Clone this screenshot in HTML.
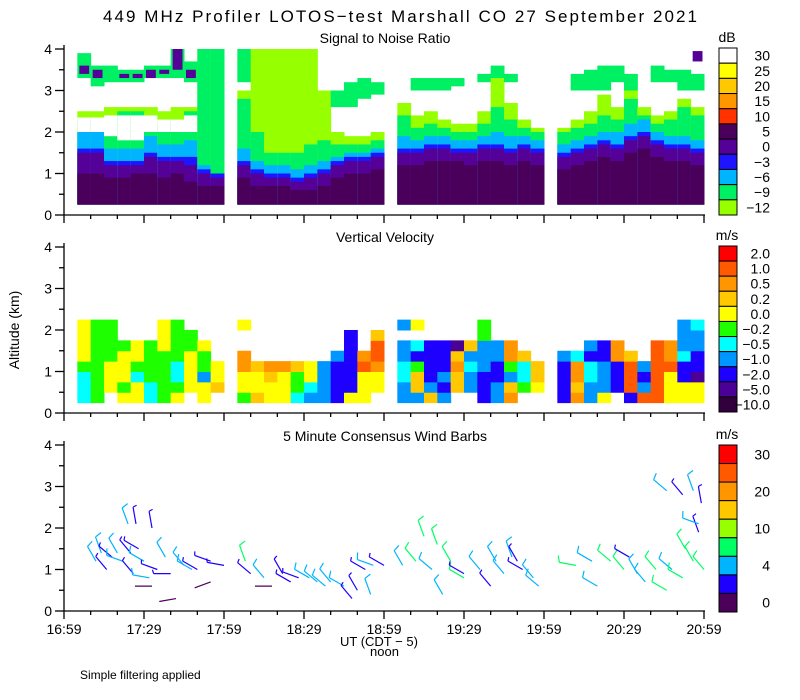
<!DOCTYPE html>
<html><head><meta charset="utf-8"><style>
html,body{margin:0;padding:0;background:#fff;}
svg{display:block;font-family:"Liberation Sans",sans-serif;}
</style></head><body>
<svg id="c" width="800" height="700" xmlns="http://www.w3.org/2000/svg">
<text x="400" y="22" text-anchor="middle" font-size="17" textLength="594">449 MHz Profiler LOTOS−test Marshall CO 27 September 2021</text>
<text x="385" y="43" text-anchor="middle" font-size="14">Signal to Noise Ratio</text>
<text x="385" y="242" text-anchor="middle" font-size="14">Vertical Velocity</text>
<text x="385" y="441" text-anchor="middle" font-size="14">5 Minute Consensus Wind Barbs</text>
<text transform="translate(19,330) rotate(-90)" text-anchor="middle" font-size="14">Altitude (km)</text>
<text x="340" y="646" font-size="13">UT  (CDT − 5)</text>
<text x="370" y="656" font-size="13">noon</text>
<text x="80" y="679" font-size="12">Simple filtering applied</text>
<g id="plots"></g>
</svg>
<script>
// ---------- data ----------
const xTickLabels = ["16:59","17:29","17:59","18:29","18:59","19:29","19:59","20:29","20:59"];
const yTickLabels = ["0","1","2","3","4"];
const segStarts = [5,65,125,185]; // minutes after 16:59
const colMinutes = 5;
// SNR layer tops (km), 44 columns
const snrDarkTop = [1.0,1.0,0.9,0.9,1.0,1.0,0.9,1.0,0.8,0.7,0.7, 0.9,0.7,0.7,0.7,0.6,0.6,0.7,0.9,1.0,1.0,1.1, 1.2,1.2,1.3,1.3,1.3,1.2,1.3,1.3,1.2,1.3,1.2, 1.1,1.2,1.3,1.4,1.3,1.5,1.6,1.4,1.3,1.3,1.2];
const snrPurpleTop = [1.5,1.5,1.2,1.2,1.2,1.4,1.3,1.3,1.2,1.0,0.9, 1.2,1.0,0.9,0.9,0.8,0.9,1.0,1.2,1.3,1.3,1.4, 1.5,1.5,1.6,1.6,1.5,1.5,1.6,1.6,1.5,1.6,1.5, 1.4,1.5,1.6,1.7,1.6,1.8,1.9,1.7,1.6,1.6,1.5];
const snrBlueTop = [1.6,1.6,1.3,1.3,1.3,1.5,1.4,1.4,1.4,1.1,1.0, 1.3,1.1,1.0,1.0,0.9,1.0,1.1,1.3,1.4,1.4,1.5, 1.6,1.6,1.7,1.7,1.6,1.6,1.7,1.7,1.6,1.7,1.6, 1.5,1.6,1.7,1.8,1.7,1.9,2.0,1.8,1.7,1.7,1.6];
const snrCyanTop = [2.0,2.0,1.6,1.6,1.6,1.9,1.7,1.7,1.8,1.2,1.0, 1.6,1.3,1.2,1.2,1.1,1.2,1.3,1.4,1.5,1.5,1.6, 1.9,1.8,1.9,1.9,1.8,1.8,1.9,2.0,1.9,1.9,1.8, 1.7,1.8,1.9,2.0,2.0,2.2,2.3,2.0,1.9,1.9,1.8];
const snrGreenTop = [2.3,2.3,1.9,2.5,2.5,2.4,2.2,2.3,2.5,4.0,4.0, 2.8,2.0,1.5,1.5,1.5,1.7,1.8,1.7,1.7,1.7,1.8, 2.4,2.1,2.2,2.1,2.0,2.0,2.2,2.6,2.3,2.1,2.0, 2.0,2.1,2.2,2.4,2.3,2.8,2.4,2.2,2.3,2.6,2.4];
const snrLimeTop = [2.5,2.5,2.6,2.6,2.6,2.6,2.5,2.6,2.6,4.0,4.0, 3.0,4.0,4.0,4.0,4.0,4.0,3.0,2.0,1.9,1.9,2.0, 2.7,2.4,2.5,2.3,2.2,2.2,2.5,3.3,2.7,2.3,2.1, 2.1,2.3,2.5,2.9,2.6,3.0,2.6,2.4,2.5,2.8,2.6];
const snrGapLo = [2.0,2.0,1.9,1.8,1.8,2.0,2.0,2.0,2.0,0,0, 0,0,0,0,0,0,0,0,0,0,0, 0,0,0,0,0,0,0,0,0,0,0, 0,0,0,0,0,0,0,0,0,0,0];
const snrGapHi = [2.35,2.35,2.4,2.4,2.4,2.4,2.3,2.3,2.4,0,0, 0,0,0,0,0,0,0,0,0,0,0, 0,0,0,0,0,0,0,0,0,0,0, 0,0,0,0,0,0,0,0,0,0,0];
const snrUpLo = [3.3,3.1,3.2,3.2,3.2,3.3,3.3,3.3,3.2,0,0, 3.2,0,0,0,0,0,0,2.6,2.6,2.8,2.9, 0,3.0,3.0,3.0,3.1,0,3.2,3.3,3.2,0,0, 0,3.0,3.0,3.0,3.2,3.0,0,3.2,3.2,3.0,3.0];
const snrUpHi = [3.9,3.6,3.6,3.5,3.5,3.6,3.6,4.0,3.7,0,0, 4.0,0,0,0,0,0,0,3.0,3.2,3.3,3.2, 0,3.3,3.3,3.3,3.3,0,3.4,3.6,3.4,0,0, 0,3.4,3.5,3.6,3.6,3.4,0,3.6,3.5,3.5,3.4];
const snrCoreLo = [3.4,3.3,0,3.3,3.3,3.3,3.4,3.5,3.3,0,0, 0,0,0,0,0,0,0,0,0,0,0, 0,0,0,0,0,0,0,0,0,0,0, 0,0,0,0,0,0,0,0,0,0,3.7];
const snrCoreHi = [3.6,3.5,0,3.4,3.4,3.5,3.5,4.0,3.5,0,0, 0,0,0,0,0,0,0,0,0,0,0, 0,0,0,0,0,0,0,0,0,0,0, 0,0,0,0,0,0,0,0,0,0,3.95];
// Vertical velocity level index per cell (rows 0.25 km from 0.25), -1 empty
const velRowBase = [0.25,0.5,0.75,1.0,1.25,1.5,1.75,2.0];
const vel0 = [4,5,-1,6,6,4,5,6,-1,6,-1, 5,7,6,6,4,3,3,2,6,6,-1, 3,3,7,3,-1,-1,2,3,8,-1,-1, 2,8,3,6,-1,2,9,9,6,6,6];
const vel1 = [4,5,6,5,6,4,5,5,6,6,7, 6,6,6,6,5,4,3,2,2,6,6, 3,7,3,2,7,3,2,3,7,5,6, 2,7,3,3,2,9,3,9,6,6,6];
const vel2 = [4,5,6,6,4,5,5,4,6,3,6, 6,6,7,6,5,6,3,2,2,6,6, 4,7,2,3,7,3,2,2,3,4,7, 2,8,4,3,2,9,2,9,6,2,1];
const vel3 = [5,5,6,6,5,5,5,4,6,5,6, 8,7,8,8,7,6,3,2,2,9,8, 4,5,2,2,8,4,3,2,5,4,7, 2,8,4,3,2,9,3,9,9,2,2];
const vel4 = [6,5,5,6,6,5,5,5,6,5,-1, 8,-1,-1,-1,-1,-1,-1,3,2,8,9, 3,2,2,2,7,3,3,3,8,7,-1, 3,4,2,2,8,7,-1,9,8,4,2];
const vel5 = [6,5,5,5,6,5,6,5,5,6,-1, -1,-1,-1,-1,-1,-1,-1,-1,2,-1,9, 3,4,2,2,1,7,3,3,8,-1,-1, -1,-1,3,2,8,-1,-1,9,8,3,3];
const vel6 = [6,5,5,-1,-1,-1,6,5,5,-1,-1, -1,-1,-1,-1,-1,-1,-1,-1,2,-1,7, -1,-1,-1,-1,-1,-1,5,-1,-1,-1,-1, -1,-1,-1,-1,-1,-1,-1,-1,-1,3,3];
const vel7 = [6,5,5,-1,-1,-1,6,5,-1,-1,-1, 6,-1,-1,-1,-1,-1,-1,-1,-1,-1,-1, 3,6,-1,-1,-1,-1,5,-1,-1,-1,-1, -1,-1,-1,-1,-1,-1,-1,-1,-1,3,4];
// Wind barbs
const windTime = [12,16,20,25,30,35,14,18,28,38,45,50,55,60,22,26,32,40,48,33,42,55,24,27,33, 70,75,82,88,92,95,100,105,110,115,120,78,85,98,108,113,116,68, 127,132,138,145,150,156,162,168,172,176,178,140,150,160,165,170,135,142, 192,198,205,210,215,222,228,232,236,240,200,212,218,226,233,238,226,232,236,239,238];
const windAlt = [1.2,1.0,1.4,1.4,1.2,1.0,1.4,1.3,1.5,1.3,1.1,1.0,1.2,1.1,1.2,0.9,0.8,0.9,1.0,0.6,0.3,0.7,2.1,2.1,2.0, 0.9,0.8,0.9,0.8,0.8,0.7,0.7,0.6,0.5,0.4,1.1,0.6,0.7,0.6,0.3,1.0,1.1,1.2, 1.1,1.2,1.0,1.2,0.8,1.0,1.2,1.3,1.0,0.8,0.6,1.6,0.9,0.6,0.9,1.2,1.8,0.4, 1.1,1.2,1.2,1.0,0.9,1.0,1.0,0.8,1.2,1.0,0.6,1.3,0.7,0.5,1.5,1.9,2.9,2.8,2.9,2.6,2.1];
const windSpeed = [5,3,5,3,5,3,5,3,3,5,5,3,3,3,5,3,5,3,5,1,1,1,5,3,3, 3,5,3,3,5,5,5,5,3,5,3,1,3,5,3,3,5,8, 5,8,5,8,8,5,5,5,3,5,5,8,3,3,5,3,8,5, 8,5,8,8,5,8,5,8,8,8,5,3,5,8,8,3,5,3,5,3,5];
const windDir = [330,320,330,320,300,290,340,310,300,330,320,300,290,280,290,320,280,270,300,270,260,250,340,350,350, 310,320,330,290,300,310,320,300,330,340,300,270,300,310,320,300,290,340, 330,320,310,330,300,320,330,340,300,320,310,340,300,320,320,330,340,330, 280,300,310,320,330,320,310,300,330,320,300,300,320,300,330,340,310,320,340,350,290];
// colour scales
const snrLabels = ["30","25","20","15","10","5","0","−3","−6","−9","−12"];
const snrColors = ["#ffffff","#ffff00","#ffc800","#ff9600","#ff3200","#4a005a","#550096","#1e14ff","#00b4ff","#00f064","#96ff00"];
const velLabels = ["2.0","1.0","0.5","0.2","0.0","−0.2","−0.5","−1.0","−2.0","−5.0","−10.0"];
const velColors = ["#ff0000","#ff5a00","#ff9600","#ffc800","#ffff00","#1eff00","#00ffff","#0096ff","#1e00ff","#4b0096","#32003c"];
const windLabels = ["30","","20","","10","","4","","0"];
const windColors = ["#ff0000","#ff5a00","#ff9600","#ffc800","#96ff00","#00ff64","#00b4ff","#1e00ff","#4b005a"];
// ---------- drawing ----------
const NS="http://www.w3.org/2000/svg";
const g=document.getElementById('plots');
function mk(tag,attrs,parent){const e=document.createElementNS(NS,tag);for(const k in attrs)e.setAttribute(k,attrs[k]);(parent||g).appendChild(e);return e;}
const X0=64,X1=704;
function xs(t){return X0+t*(X1-X0)/240;}
const panels=[{top:49,bot:215},{top:247,bot:413},{top:445,bot:611}];
function ys(p,km){return p.bot-km*(p.bot-p.top)/4;}
function colX(i){return xs(segStarts[Math.floor(i/11)]+(i%11)*colMinutes);}
const colW=xs(colMinutes)-xs(0)+0.5;
// panel 1
const p1=panels[0];
const layers=[[snrLimeTop,10],[snrGreenTop,9],[snrCyanTop,8],[snrBlueTop,7],[snrPurpleTop,6],[snrDarkTop,5]];
const gSnr=mk('g',{});


for(let i=0;i<44;i++){
  layers.forEach(([arr,ci])=>{
    const r=mk('rect',{x:colX(i),y:ys(p1,arr[i]),width:colW,height:ys(p1,0.25)-ys(p1,arr[i]),fill:snrColors[ci]},gSnr);
    
    
  });
  if(snrGapHi[i]>0){mk('rect',{x:colX(i),y:ys(p1,snrGapHi[i]),width:colW,height:ys(p1,snrGapLo[i])-ys(p1,snrGapHi[i]),fill:"#fff"},gSnr);}
  if(snrUpHi[i]>0){
    const u=mk('rect',{x:colX(i),y:ys(p1,snrUpHi[i]),width:colW,height:ys(p1,snrUpLo[i])-ys(p1,snrUpHi[i]),fill:snrColors[9]},gSnr);
    
    
  }
  if(snrCoreHi[i]>0){mk('rect',{x:colX(i)+2,y:ys(p1,snrCoreHi[i]),width:colW-4,height:ys(p1,snrCoreLo[i])-ys(p1,snrCoreHi[i]),fill:snrColors[6]},gSnr);}
}
// panel 2
const p2=panels[1];
const velRows=[vel0,vel1,vel2,vel3,vel4,vel5,vel6,vel7];
const gVel=mk('g',{});


velRows.forEach((row,ri)=>{
  row.forEach((v,i)=>{
    if(v<0)return;
    const r=mk('rect',{x:colX(i),y:ys(p2,velRowBase[ri]+0.25),width:colW,height:ys(p2,0)-ys(p2,0.25)+0.5,fill:velColors[10-v]},gVel);
    
    
  });
});
// panel 3 barbs
const p3=panels[2];
const gW=mk('g',{'stroke-width':1.2});


function windColor(s){const idx=s<2?8:s<4?7:s<7?6:s<10?5:s<15?4:s<20?3:s<25?2:s<30?1:0;return windColors[idx];}
windTime.forEach((t,i)=>{
  const bx=xs(t),by=ys(p3,windAlt[i]);const a=windDir[i]*Math.PI/180;const L=17;
  const ex=bx+Math.sin(a)*L,ey=by-Math.cos(a)*L;const col=windColor(windSpeed[i]);
  const l=mk('line',{x1:bx,y1:by,x2:ex,y2:ey,stroke:col},gW);
  
  
  if(windSpeed[i]>=3){const bl=windSpeed[i]>=5?7:4;const b=a+Math.PI/2.5;
    mk('line',{x1:ex,y1:ey,x2:ex+Math.sin(b)*bl,y2:ey-Math.cos(b)*bl,stroke:col},gW);}
});
// axes
panels.forEach((p,pi)=>{
  const ax=mk('g',{stroke:"#000","stroke-width":1.3});
  
  
  mk('line',{x1:X0,y1:p.top-4,x2:X0,y2:p.bot},ax);
  mk('line',{x1:X0,y1:p.bot,x2:X1+1,y2:p.bot},ax);
  for(let k=0;k<=8;k++){const y=ys(p,k*0.5);mk('line',{x1:X0-(k%2?5:9),y1:y,x2:X0,y2:y},ax);}
  for(let m=0;m<=24;m++){const x=xs(m*10);mk('line',{x1:x,y1:p.bot,x2:x,y2:p.bot+(m%3?4:8)},ax);}
  yTickLabels.forEach((lab,k)=>{const t=mk('text',{x:X0-12,y:ys(p,k)+5,'text-anchor':'end','font-size':14,stroke:'none',fill:'#000'},ax);t.textContent=lab;
    
    });
});
xTickLabels.forEach((lab,k)=>{const t=mk('text',{x:xs(k*30),y:634,'text-anchor':'middle','font-size':14});t.textContent=lab;
  
  });
// colorbars
function colorbar(top,bot,colors,labels,unit,name){
  const cg=mk('g',{});
  
  
  const h=(bot-top)/colors.length;
  colors.forEach((c,i)=>{mk('rect',{x:719,y:top+i*h,width:18,height:h,fill:c,stroke:"#000","stroke-width":1},cg);
    if(labels[i]){const t=mk('text',{x:770,y:top+i*h+h/2+5,'text-anchor':'end','font-size':14},cg);t.textContent=labels[i];}});
  const u=mk('text',{x:727,y:top-6,'text-anchor':'middle','font-size':14},cg);u.textContent=unit;
}
colorbar(48,215,snrColors,snrLabels,"dB","snr-colorbar");
colorbar(246,412,velColors,velLabels,"m/s","velocity-colorbar");
colorbar(445,612,windColors,windLabels,"m/s","wind-colorbar");
</script>
</body></html>
